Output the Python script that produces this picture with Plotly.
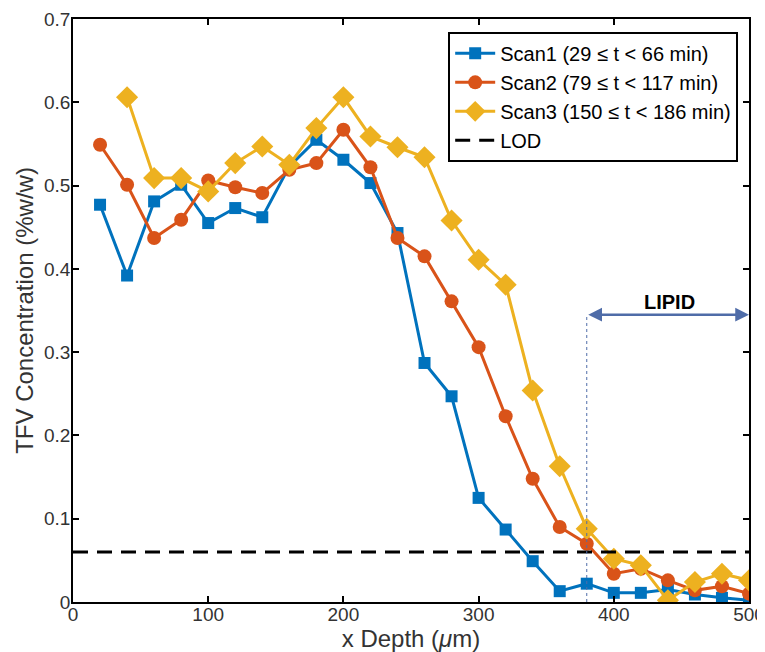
import plotly.graph_objects as go

depth = [20, 40, 60, 80, 100, 120, 140, 160, 180, 200, 220, 240, 260, 280, 300,
         320, 340, 360, 380, 400, 420, 440, 460, 480, 500]
scan1 = [0.477, 0.392, 0.481, 0.501, 0.455, 0.473, 0.462, 0.523, 0.555, 0.531, 0.503,
         0.443, 0.287, 0.247, 0.125, 0.087, 0.049, 0.013, 0.022, 0.011, 0.011, 0.015,
         0.009, 0.005, 0.002]
scan2 = [0.549, 0.501, 0.437, 0.459, 0.506, 0.498, 0.491, 0.519, 0.527, 0.567, 0.522,
         0.437, 0.415, 0.361, 0.306, 0.223, 0.148, 0.090, 0.070, 0.034, 0.040, 0.026,
         0.014, 0.019, 0.010]
depth3 = depth[1:]
scan3 = [0.606, 0.509, 0.509, 0.493, 0.527, 0.547, 0.525, 0.569, 0.606, 0.559,
         0.546, 0.534, 0.458, 0.411, 0.381, 0.254, 0.163, 0.088, 0.052, 0.044, 0.002,
         0.024, 0.034, 0.026]
lod = 0.06
lipid_start, lipid_end, lipid_y = 380, 500, 0.345

names = ["Scan1 (29 ≤ t < 66 min)", "Scan2 (79 ≤ t < 117 min)", "Scan3 (150 ≤ t < 186 min)"]
colors = ["#0072BD", "#D95319", "#EDB120"]
symbols = ["square", "circle", "diamond"]
sizes = [12, 14, 17]

fig = go.Figure()
for xs, ys, n, c, s, sz in zip([depth, depth, depth3], [scan1, scan2, scan3], names, colors, symbols, sizes):
    fig.add_trace(go.Scatter(x=xs, y=ys, name=n, mode="lines+markers",
                             line=dict(color=c, width=3),
                             marker=dict(color=c, symbol=s, size=sz)))
fig.add_trace(go.Scatter(x=[0, 500], y=[lod, lod], name="LOD", mode="lines",
                         line=dict(color="black", width=3, dash="15px,9px")))

fig.add_shape(type="line", x0=lipid_start, x1=lipid_start, y0=0, y1=lipid_y,
              line=dict(color="#4F6CA8", width=1, dash="dot"))
fig.add_annotation(x=lipid_end, y=lipid_y, ax=lipid_start, ay=lipid_y, axref="x", ayref="y",
                   xref="x", yref="y", text="", showarrow=True, arrowhead=2, startarrowhead=2,
                   arrowside="end+start", arrowcolor="#4F6CA8", arrowwidth=2.5, arrowsize=1.1,
                   startarrowsize=1.1)
fig.add_annotation(x=441.5, y=0.360, text="<b>LIPID</b>", showarrow=False,
                   font=dict(size=20, color="black"))

axis_common = dict(showline=True, linecolor="black", linewidth=1.5, mirror="ticks",
                   ticks="inside", ticklen=6, tickwidth=1.5, tickcolor="black",
                   showgrid=False, zeroline=False, automargin=False,
                   tickfont=dict(size=19, color="#333"))
fig.update_xaxes(range=[0, 500], tickvals=[0, 100, 200, 300, 400, 500],
                 ticklabelstandoff=-6,
                 title=dict(text="x Depth (<i>μ</i>m)", font=dict(size=24, color="#333"), standoff=8),
                 **axis_common)
fig.update_yaxes(range=[0, 0.7], tickvals=[0, 0.1, 0.2, 0.3, 0.4, 0.5, 0.6, 0.7],
                 ticktext=["0", "0.1", "0.2", "0.3", "0.4", "0.5", "0.6", "0.7"],
                 ticklabelstandoff=-3,
                 title=dict(text="TFV Concentration (%w/w)", font=dict(size=24, color="#333"), standoff=4),
                 **axis_common)
# page body has an 8px margin: size the figure so the plot area lands where the reference has it
fig.update_layout(width=757, height=644, margin=dict(l=65, r=16, t=11, b=50),
                  plot_bgcolor="white", paper_bgcolor="white",
                  font=dict(family="Liberation Sans, Arial, Helvetica, sans-serif"),
                  legend=dict(x=0.555, y=0.978, xanchor="left", yanchor="top",
                              bgcolor="white", bordercolor="black", borderwidth=2,
                              font=dict(size=20, color="black"), tracegroupgap=0,
                              itemwidth=40),
                  showlegend=True)
fig.write_html("out.html")
